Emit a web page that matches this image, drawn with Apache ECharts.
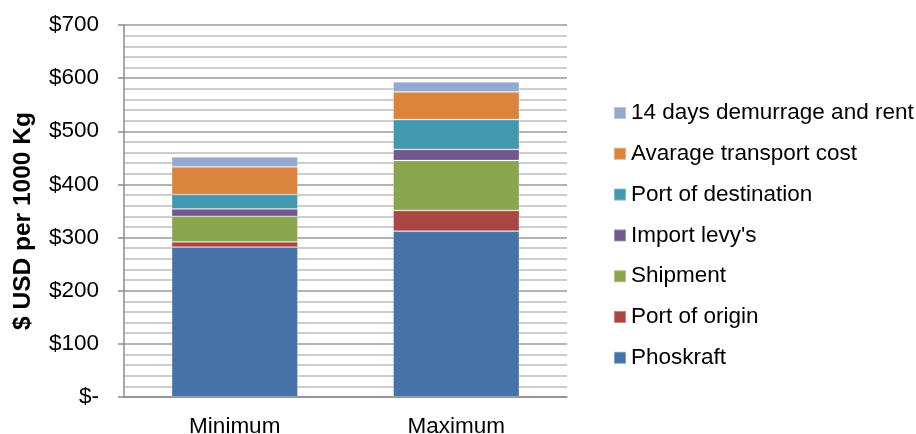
<!DOCTYPE html>
<html>
<head>
<meta charset="utf-8">
<script src="https://cdn.jsdelivr.net/npm/echarts@6/dist/echarts.min.js"></script>
<style>
  html, body { margin: 0; padding: 0; background: #ffffff; }
  #chart { width: 916px; height: 434px; }
</style>
</head>
<body>
<div id="chart"></div>
<script>
// Cost build-up per 1000 Kg, in USD
const categories = ['Minimum', 'Maximum'];
const phoskraft = [282, 312];
const portOfOrigin = [10, 39];
const shipment = [48, 94];
const importLevy = [14, 21];
const portOfDestination = [27, 56];
const transportCost = [52, 52];
const demurrage = [19, 19];

const yTicks = [0, 100, 200, 300, 400, 500, 600, 700];

const seriesDefs = [
  { name: 'Phoskraft', data: phoskraft, color: '#4572A7' },
  { name: 'Port of origin', data: portOfOrigin, color: '#AA4643' },
  { name: 'Shipment', data: shipment, color: '#89A54E' },
  { name: "Import levy's", data: importLevy, color: '#71588F' },
  { name: 'Port of destination', data: portOfDestination, color: '#4198AF' },
  { name: 'Avarage transport cost', data: transportCost, color: '#DB843D' },
  { name: '14 days demurrage and rent', data: demurrage, color: '#93A9CF' }
];

const font = '"Liberation Sans", Arial, sans-serif';
const chart = echarts.init(document.getElementById('chart'), null, { renderer: 'canvas' });

chart.setOption({
  animation: false,
  backgroundColor: '#ffffff',
  textStyle: { fontFamily: font },
  grid: {
    left: 124, right: 349, top: 25, bottom: 37,
    containLabel: false,
    outerBoundsMode: 'none'
  },
  legend: {
    orient: 'vertical',
    left: 608,
    top: 96.5,
    itemWidth: 12,
    itemHeight: 12,
    itemGap: 17.8,
    icon: 'rect',
    data: seriesDefs.map(s => s.name).reverse(),
    textStyle: { fontFamily: font, fontSize: 22.5, color: '#000000', lineHeight: 21 }
  },
  xAxis: {
    type: 'category',
    data: categories,
    axisLine: { lineStyle: { color: '#8c8c8c', width: 1.5 } },
    axisTick: { show: false },
    axisLabel: { color: '#000000', fontSize: 22.5, fontFamily: font, margin: 18 }
  },
  yAxis: {
    type: 'value',
    min: yTicks[0],
    max: yTicks[yTicks.length - 1],
    interval: 100,
    name: '$ USD per 1000 Kg',
    nameLocation: 'middle',
    nameRotate: 90,
    nameGap: 88,
    nameTextStyle: {
      fontSize: 24.5,
      fontWeight: 'bold',
      color: '#000000',
      fontFamily: font,
      padding: [0, 20, 0, 0]
    },
    axisLine: { show: true, lineStyle: { color: '#8c8c8c', width: 1.5 } },
    axisTick: { show: true, length: 6, lineStyle: { color: '#8c8c8c', width: 1.5 } },
    minorTick: { show: true, splitNumber: 5, length: 0 },
    axisLabel: {
      color: '#000000',
      fontSize: 22.5,
      fontFamily: font,
      margin: 25,
      formatter: v => (v === 0 ? '$-' : '$' + v)
    },
    splitLine: { show: true, lineStyle: { color: '#9a9a9a', width: 1.5 } },
    minorSplitLine: { show: true, lineStyle: { color: '#bdbdbd', width: 1.5 } }
  },
  series: seriesDefs.map(s => ({
    name: s.name,
    type: 'bar',
    stack: 'total',
    data: s.data,
    barWidth: '57%',
    itemStyle: { color: s.color, borderColor: 'rgba(255,255,255,0.35)', borderWidth: 0.8 }
  }))
});
</script>
</body>
</html>
